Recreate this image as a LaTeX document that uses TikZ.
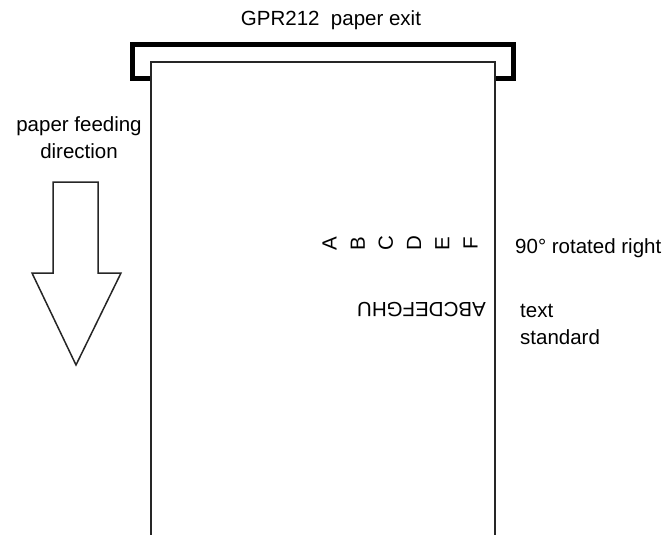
\documentclass[tikz,border=0pt]{standalone}
\usepackage{fontspec}
\setmainfont{Liberation Sans}
\usepackage{tikz}
\usetikzlibrary{positioning}

\begin{document}
\begin{tikzpicture}[
    x=1pt, y=-1pt,
    every node/.style={inner sep=0pt, font=\fontsize{20.5}{27}\selectfont},
    thin line/.style={line width=1.5pt, black!85},
    holder/.style={line width=5pt, line join=miter, black}
  ]
  \useasboundingbox (0,0) rectangle (672,535);

  % title and printer exit
  \node (title) at (331,20) {GPR212\ \ paper exit};
  \draw[holder] (150,79) -- (132,79) -- (132,44.5) -- (513,44.5) -- (513,79) -- (496,79);

  % paper
  \draw[thin line] (151,535) -- (151,62) -- (495,62) -- (495,535);

  % feeding direction
  \node[align=center] (feed) at (79,138) {paper feeding\\direction};
  \draw[thin line, line join=miter] (53,182) -- (98,182) -- (98,273) -- (121,273)
    -- (76,365) -- (32,273) -- (53,273) -- cycle;

  % rotated letters
  \foreach \ch [count=\i from 0] in {A,B,C,D,E,F}
    \node[rotate=90] (rot\ch) at (329.5+28.2*\i,243.5) {\ch};
  \node[anchor=west] (rotlabel) at (515,248) {90° rotated right};

  % standard text, upside down
  \node[rotate=180] (std) at (421.5,309.5) {ABCDEFGHU};
  \node[anchor=west, align=left] (stdlabel) at (520,324) {text\\standard};
\end{tikzpicture}
\end{document}
